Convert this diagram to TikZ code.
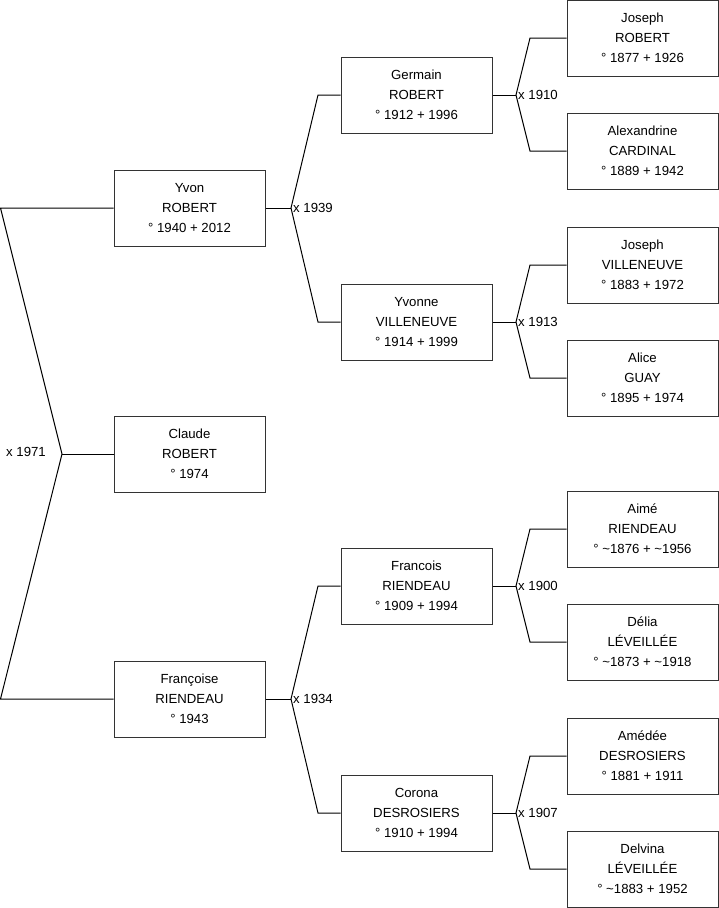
\documentclass[tikz,border=0pt]{standalone}
\usepackage{fontspec}
\setmainfont{Liberation Sans}
\begin{document}
\begin{tikzpicture}[x=1pt,y=-1pt,
  person/.style={draw=black!80,line width=1pt,minimum width=151pt,minimum height=76pt,inner sep=0pt,align=center,font=\fontsize{13.2}{20}\selectfont,fill=white},
  link/.style={draw=black,line width=1pt},
  marr/.style={inner sep=2pt,font=\fontsize{13.2}{15}\selectfont}]
\useasboundingbox (0,0) rectangle (719,908);
% generation 1
\node[person] (yvon) at (189.5,208) {Yvon\\ROBERT\\° 1940 + 2012};
\node[person] (claude) at (189.5,454) {Claude\\ROBERT\\° 1974};
\node[person] (francoise) at (189.5,699) {Françoise\\RIENDEAU\\° 1943};
% generation 2
\node[person] (germain) at (416.5,95) {Germain\\ROBERT\\° 1912 + 1996};
\node[person] (yvonne) at (416.5,322) {Yvonne\\VILLENEUVE\\° 1914 + 1999};
\node[person] (francois) at (416.5,586) {Francois\\RIENDEAU\\° 1909 + 1994};
\node[person] (corona) at (416.5,813) {Corona\\DESROSIERS\\° 1910 + 1994};
% generation 3
\node[person] (josephr) at (642.5,38) {Joseph\\ROBERT\\° 1877 + 1926};
\node[person] (alexandrine) at (642.5,151) {Alexandrine\\CARDINAL\\° 1889 + 1942};
\node[person] (josephv) at (642.5,265) {Joseph\\VILLENEUVE\\° 1883 + 1972};
\node[person] (alice) at (642.5,378) {Alice\\GUAY\\° 1895 + 1974};
\node[person] (aime) at (642.5,529) {Aimé\\RIENDEAU\\° \textasciitilde1876 + \textasciitilde1956};
\node[person] (delia) at (642.5,642) {Délia\\LÉVEILLÉE\\° \textasciitilde1873 + \textasciitilde1918};
\node[person] (amedee) at (642.5,756) {Amédée\\DESROSIERS\\° 1881 + 1911};
\node[person] (delvina) at (642.5,869) {Delvina\\LÉVEILLÉE\\° \textasciitilde1883 + 1952};
% root couple
\coordinate (r) at (62,454);
\coordinate (ra) at (0.5,208);
\coordinate (rb) at (0.5,699);
\draw[link] (yvon.west) -- (ra) -- (r) -- (rb) -- (francoise.west);
\draw[link] (r) -- (claude.west);
\node[marr,anchor=east] (m1971) at (48,452) {x 1971};
% generation 1 couples
\coordinate (f1) at (291,208);
\coordinate (f1a) at (318,95);
\coordinate (f1b) at (318,322);
\draw[link] (yvon.east) -- (f1);
\draw[link] (germain.west) -- (f1a) -- (f1) -- (f1b) -- (yvonne.west);
\node[marr,anchor=west] (m1939) at (f1) {x 1939};
\coordinate (f2) at (291,699);
\coordinate (f2a) at (318,586);
\coordinate (f2b) at (318,813);
\draw[link] (francoise.east) -- (f2);
\draw[link] (francois.west) -- (f2a) -- (f2) -- (f2b) -- (corona.west);
\node[marr,anchor=west] (m1934) at (f2) {x 1934};
% generation 2 couples
\coordinate (g1) at (516,95);
\coordinate (g1a) at (530,38);
\coordinate (g1b) at (530,151);
\draw[link] (germain.east) -- (g1);
\draw[link] (josephr.west) -- (g1a) -- (g1) -- (g1b) -- (alexandrine.west);
\node[marr,anchor=west] (m1910) at (g1) {x 1910};
\coordinate (g2) at (516,322);
\coordinate (g2a) at (530,265);
\coordinate (g2b) at (530,378);
\draw[link] (yvonne.east) -- (g2);
\draw[link] (josephv.west) -- (g2a) -- (g2) -- (g2b) -- (alice.west);
\node[marr,anchor=west] (m1913) at (g2) {x 1913};
\coordinate (g3) at (516,586);
\coordinate (g3a) at (530,529);
\coordinate (g3b) at (530,642);
\draw[link] (francois.east) -- (g3);
\draw[link] (aime.west) -- (g3a) -- (g3) -- (g3b) -- (delia.west);
\node[marr,anchor=west] (m1900) at (g3) {x 1900};
\coordinate (g4) at (516,813);
\coordinate (g4a) at (530,756);
\coordinate (g4b) at (530,869);
\draw[link] (corona.east) -- (g4);
\draw[link] (amedee.west) -- (g4a) -- (g4) -- (g4b) -- (delvina.west);
\node[marr,anchor=west] (m1907) at (g4) {x 1907};
\end{tikzpicture}
\end{document}
